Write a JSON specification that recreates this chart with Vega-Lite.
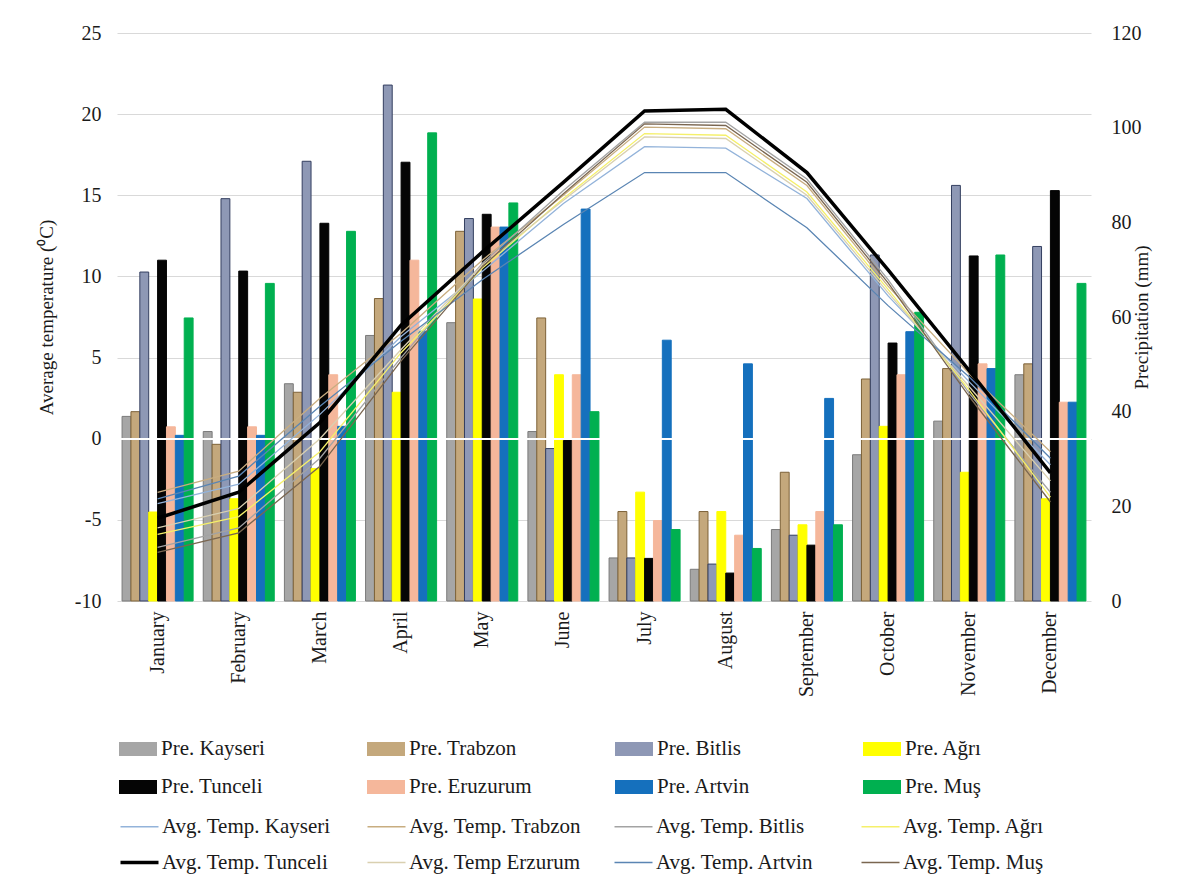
{
  "$schema": "https://vega.github.io/schema/vega-lite/v6.json",
  "width": 974,
  "height": 568,
  "autosize": {"type": "none"},
  "padding": {"left": 117, "top": 33, "right": 103, "bottom": 281},
  "background": "white",
  "datasets": {
    "precip": [
      {"month": "January", "pre": "Pre. Kayseri", "mm": 39.0},
      {"month": "January", "pre": "Pre. Trabzon", "mm": 40.0},
      {"month": "January", "pre": "Pre. Bitlis", "mm": 69.5},
      {"month": "January", "pre": "Pre. Ağrı", "mm": 18.8},
      {"month": "January", "pre": "Pre. Tunceli", "mm": 72.0},
      {"month": "January", "pre": "Pre. Eruzurum", "mm": 36.8},
      {"month": "January", "pre": "Pre. Artvin", "mm": 35.0},
      {"month": "January", "pre": "Pre. Muş", "mm": 59.8},
      {"month": "February", "pre": "Pre. Kayseri", "mm": 35.8},
      {"month": "February", "pre": "Pre. Trabzon", "mm": 33.1},
      {"month": "February", "pre": "Pre. Bitlis", "mm": 85.0},
      {"month": "February", "pre": "Pre. Ağrı", "mm": 21.6},
      {"month": "February", "pre": "Pre. Tunceli", "mm": 69.7},
      {"month": "February", "pre": "Pre. Eruzurum", "mm": 36.8},
      {"month": "February", "pre": "Pre. Artvin", "mm": 35.0},
      {"month": "February", "pre": "Pre. Muş", "mm": 67.1},
      {"month": "March", "pre": "Pre. Kayseri", "mm": 45.9},
      {"month": "March", "pre": "Pre. Trabzon", "mm": 44.1},
      {"month": "March", "pre": "Pre. Bitlis", "mm": 92.9},
      {"month": "March", "pre": "Pre. Ağrı", "mm": 28.0},
      {"month": "March", "pre": "Pre. Tunceli", "mm": 79.8},
      {"month": "March", "pre": "Pre. Eruzurum", "mm": 47.8},
      {"month": "March", "pre": "Pre. Artvin", "mm": 36.9},
      {"month": "March", "pre": "Pre. Muş", "mm": 78.1},
      {"month": "April", "pre": "Pre. Kayseri", "mm": 56.1},
      {"month": "April", "pre": "Pre. Trabzon", "mm": 63.9},
      {"month": "April", "pre": "Pre. Bitlis", "mm": 109.0},
      {"month": "April", "pre": "Pre. Ağrı", "mm": 44.1},
      {"month": "April", "pre": "Pre. Tunceli", "mm": 92.7},
      {"month": "April", "pre": "Pre. Eruzurum", "mm": 72.0},
      {"month": "April", "pre": "Pre. Artvin", "mm": 57.0},
      {"month": "April", "pre": "Pre. Muş", "mm": 98.9},
      {"month": "May", "pre": "Pre. Kayseri", "mm": 58.8},
      {"month": "May", "pre": "Pre. Trabzon", "mm": 78.1},
      {"month": "May", "pre": "Pre. Bitlis", "mm": 80.8},
      {"month": "May", "pre": "Pre. Ağrı", "mm": 63.8},
      {"month": "May", "pre": "Pre. Tunceli", "mm": 81.7},
      {"month": "May", "pre": "Pre. Eruzurum", "mm": 79.0},
      {"month": "May", "pre": "Pre. Artvin", "mm": 79.0},
      {"month": "May", "pre": "Pre. Muş", "mm": 84.1},
      {"month": "June", "pre": "Pre. Kayseri", "mm": 35.8},
      {"month": "June", "pre": "Pre. Trabzon", "mm": 59.8},
      {"month": "June", "pre": "Pre. Bitlis", "mm": 32.2},
      {"month": "June", "pre": "Pre. Ağrı", "mm": 47.8},
      {"month": "June", "pre": "Pre. Tunceli", "mm": 33.9},
      {"month": "June", "pre": "Pre. Eruzurum", "mm": 47.8},
      {"month": "June", "pre": "Pre. Artvin", "mm": 82.8},
      {"month": "June", "pre": "Pre. Muş", "mm": 40.0},
      {"month": "July", "pre": "Pre. Kayseri", "mm": 9.1},
      {"month": "July", "pre": "Pre. Trabzon", "mm": 18.9},
      {"month": "July", "pre": "Pre. Bitlis", "mm": 9.1},
      {"month": "July", "pre": "Pre. Ağrı", "mm": 23.0},
      {"month": "July", "pre": "Pre. Tunceli", "mm": 9.0},
      {"month": "July", "pre": "Pre. Eruzurum", "mm": 17.0},
      {"month": "July", "pre": "Pre. Artvin", "mm": 55.1},
      {"month": "July", "pre": "Pre. Muş", "mm": 15.1},
      {"month": "August", "pre": "Pre. Kayseri", "mm": 6.7},
      {"month": "August", "pre": "Pre. Trabzon", "mm": 18.9},
      {"month": "August", "pre": "Pre. Bitlis", "mm": 7.8},
      {"month": "August", "pre": "Pre. Ağrı", "mm": 18.9},
      {"month": "August", "pre": "Pre. Tunceli", "mm": 5.9},
      {"month": "August", "pre": "Pre. Eruzurum", "mm": 13.9},
      {"month": "August", "pre": "Pre. Artvin", "mm": 50.1},
      {"month": "August", "pre": "Pre. Muş", "mm": 11.1},
      {"month": "September", "pre": "Pre. Kayseri", "mm": 15.1},
      {"month": "September", "pre": "Pre. Trabzon", "mm": 27.2},
      {"month": "September", "pre": "Pre. Bitlis", "mm": 13.9},
      {"month": "September", "pre": "Pre. Ağrı", "mm": 16.1},
      {"month": "September", "pre": "Pre. Tunceli", "mm": 11.8},
      {"month": "September", "pre": "Pre. Eruzurum", "mm": 18.9},
      {"month": "September", "pre": "Pre. Artvin", "mm": 42.8},
      {"month": "September", "pre": "Pre. Muş", "mm": 16.1},
      {"month": "October", "pre": "Pre. Kayseri", "mm": 30.9},
      {"month": "October", "pre": "Pre. Trabzon", "mm": 46.9},
      {"month": "October", "pre": "Pre. Bitlis", "mm": 73.1},
      {"month": "October", "pre": "Pre. Ağrı", "mm": 36.9},
      {"month": "October", "pre": "Pre. Tunceli", "mm": 54.5},
      {"month": "October", "pre": "Pre. Eruzurum", "mm": 47.8},
      {"month": "October", "pre": "Pre. Artvin", "mm": 56.9},
      {"month": "October", "pre": "Pre. Muş", "mm": 61.0},
      {"month": "November", "pre": "Pre. Kayseri", "mm": 38.0},
      {"month": "November", "pre": "Pre. Trabzon", "mm": 49.1},
      {"month": "November", "pre": "Pre. Bitlis", "mm": 87.8},
      {"month": "November", "pre": "Pre. Ağrı", "mm": 27.2},
      {"month": "November", "pre": "Pre. Tunceli", "mm": 72.9},
      {"month": "November", "pre": "Pre. Eruzurum", "mm": 50.1},
      {"month": "November", "pre": "Pre. Artvin", "mm": 49.1},
      {"month": "November", "pre": "Pre. Muş", "mm": 73.1},
      {"month": "December", "pre": "Pre. Kayseri", "mm": 47.8},
      {"month": "December", "pre": "Pre. Trabzon", "mm": 50.1},
      {"month": "December", "pre": "Pre. Bitlis", "mm": 74.9},
      {"month": "December", "pre": "Pre. Ağrı", "mm": 21.6},
      {"month": "December", "pre": "Pre. Tunceli", "mm": 86.7},
      {"month": "December", "pre": "Pre. Eruzurum", "mm": 42.0},
      {"month": "December", "pre": "Pre. Artvin", "mm": 42.0},
      {"month": "December", "pre": "Pre. Muş", "mm": 67.1}
    ],
    "temp": [
      {"month": "January", "avg": "Avg. Temp. Kayseri", "t": -4.0},
      {"month": "February", "avg": "Avg. Temp. Kayseri", "t": -2.8},
      {"month": "March", "avg": "Avg. Temp. Kayseri", "t": 1.5},
      {"month": "April", "avg": "Avg. Temp. Kayseri", "t": 6.3},
      {"month": "May", "avg": "Avg. Temp. Kayseri", "t": 10.3},
      {"month": "June", "avg": "Avg. Temp. Kayseri", "t": 14.5},
      {"month": "July", "avg": "Avg. Temp. Kayseri", "t": 18.0},
      {"month": "August", "avg": "Avg. Temp. Kayseri", "t": 17.9},
      {"month": "September", "avg": "Avg. Temp. Kayseri", "t": 14.8},
      {"month": "October", "avg": "Avg. Temp. Kayseri", "t": 8.8},
      {"month": "November", "avg": "Avg. Temp. Kayseri", "t": 3.5},
      {"month": "December", "avg": "Avg. Temp. Kayseri", "t": -1.6},
      {"month": "January", "avg": "Avg. Temp. Trabzon", "t": -3.3},
      {"month": "February", "avg": "Avg. Temp. Trabzon", "t": -2.0},
      {"month": "March", "avg": "Avg. Temp. Trabzon", "t": 2.5},
      {"month": "April", "avg": "Avg. Temp. Trabzon", "t": 6.5},
      {"month": "May", "avg": "Avg. Temp. Trabzon", "t": 11.0},
      {"month": "June", "avg": "Avg. Temp. Trabzon", "t": 15.0},
      {"month": "July", "avg": "Avg. Temp. Trabzon", "t": 19.2},
      {"month": "August", "avg": "Avg. Temp. Trabzon", "t": 19.1},
      {"month": "September", "avg": "Avg. Temp. Trabzon", "t": 15.6},
      {"month": "October", "avg": "Avg. Temp. Trabzon", "t": 9.4},
      {"month": "November", "avg": "Avg. Temp. Trabzon", "t": 4.0},
      {"month": "December", "avg": "Avg. Temp. Trabzon", "t": -0.8},
      {"month": "January", "avg": "Avg. Temp. Bitlis", "t": -6.7},
      {"month": "February", "avg": "Avg. Temp. Bitlis", "t": -5.5},
      {"month": "March", "avg": "Avg. Temp. Bitlis", "t": -1.2},
      {"month": "April", "avg": "Avg. Temp. Bitlis", "t": 5.0},
      {"month": "May", "avg": "Avg. Temp. Bitlis", "t": 10.8},
      {"month": "June", "avg": "Avg. Temp. Bitlis", "t": 15.3},
      {"month": "July", "avg": "Avg. Temp. Bitlis", "t": 19.5},
      {"month": "August", "avg": "Avg. Temp. Bitlis", "t": 19.5},
      {"month": "September", "avg": "Avg. Temp. Bitlis", "t": 16.0},
      {"month": "October", "avg": "Avg. Temp. Bitlis", "t": 9.8},
      {"month": "November", "avg": "Avg. Temp. Bitlis", "t": 2.8},
      {"month": "December", "avg": "Avg. Temp. Bitlis", "t": -3.3},
      {"month": "January", "avg": "Avg. Temp. Ağrı", "t": -5.9},
      {"month": "February", "avg": "Avg. Temp. Ağrı", "t": -4.8},
      {"month": "March", "avg": "Avg. Temp. Ağrı", "t": -0.8},
      {"month": "April", "avg": "Avg. Temp. Ağrı", "t": 5.3},
      {"month": "May", "avg": "Avg. Temp. Ağrı", "t": 10.5},
      {"month": "June", "avg": "Avg. Temp. Ağrı", "t": 14.8},
      {"month": "July", "avg": "Avg. Temp. Ağrı", "t": 18.8},
      {"month": "August", "avg": "Avg. Temp. Ağrı", "t": 18.7},
      {"month": "September", "avg": "Avg. Temp. Ağrı", "t": 15.2},
      {"month": "October", "avg": "Avg. Temp. Ağrı", "t": 9.2},
      {"month": "November", "avg": "Avg. Temp. Ağrı", "t": 3.0},
      {"month": "December", "avg": "Avg. Temp. Ağrı", "t": -3.6},
      {"month": "January", "avg": "Avg. Temp Erzurum", "t": -5.5},
      {"month": "February", "avg": "Avg. Temp Erzurum", "t": -4.3},
      {"month": "March", "avg": "Avg. Temp Erzurum", "t": 0.0},
      {"month": "April", "avg": "Avg. Temp Erzurum", "t": 5.5},
      {"month": "May", "avg": "Avg. Temp Erzurum", "t": 10.7},
      {"month": "June", "avg": "Avg. Temp Erzurum", "t": 14.7},
      {"month": "July", "avg": "Avg. Temp Erzurum", "t": 18.6},
      {"month": "August", "avg": "Avg. Temp Erzurum", "t": 18.5},
      {"month": "September", "avg": "Avg. Temp Erzurum", "t": 15.0},
      {"month": "October", "avg": "Avg. Temp Erzurum", "t": 9.0},
      {"month": "November", "avg": "Avg. Temp Erzurum", "t": 3.2},
      {"month": "December", "avg": "Avg. Temp Erzurum", "t": -2.6},
      {"month": "January", "avg": "Avg. Temp. Artvin", "t": -3.7},
      {"month": "February", "avg": "Avg. Temp. Artvin", "t": -2.3},
      {"month": "March", "avg": "Avg. Temp. Artvin", "t": 2.0},
      {"month": "April", "avg": "Avg. Temp. Artvin", "t": 6.0},
      {"month": "May", "avg": "Avg. Temp. Artvin", "t": 9.8},
      {"month": "June", "avg": "Avg. Temp. Artvin", "t": 13.2},
      {"month": "July", "avg": "Avg. Temp. Artvin", "t": 16.4},
      {"month": "August", "avg": "Avg. Temp. Artvin", "t": 16.4},
      {"month": "September", "avg": "Avg. Temp. Artvin", "t": 13.0},
      {"month": "October", "avg": "Avg. Temp. Artvin", "t": 8.2},
      {"month": "November", "avg": "Avg. Temp. Artvin", "t": 3.8},
      {"month": "December", "avg": "Avg. Temp. Artvin", "t": -1.2},
      {"month": "January", "avg": "Avg. Temp. Muş", "t": -7.0},
      {"month": "February", "avg": "Avg. Temp. Muş", "t": -5.8},
      {"month": "March", "avg": "Avg. Temp. Muş", "t": -1.7},
      {"month": "April", "avg": "Avg. Temp. Muş", "t": 4.8},
      {"month": "May", "avg": "Avg. Temp. Muş", "t": 10.6},
      {"month": "June", "avg": "Avg. Temp. Muş", "t": 15.1},
      {"month": "July", "avg": "Avg. Temp. Muş", "t": 19.4},
      {"month": "August", "avg": "Avg. Temp. Muş", "t": 19.3},
      {"month": "September", "avg": "Avg. Temp. Muş", "t": 15.8},
      {"month": "October", "avg": "Avg. Temp. Muş", "t": 9.6},
      {"month": "November", "avg": "Avg. Temp. Muş", "t": 2.6},
      {"month": "December", "avg": "Avg. Temp. Muş", "t": -3.9},
      {"month": "January", "avg": "Avg. Temp. Tunceli", "t": -4.9},
      {"month": "February", "avg": "Avg. Temp. Tunceli", "t": -3.3},
      {"month": "March", "avg": "Avg. Temp. Tunceli", "t": 1.0},
      {"month": "April", "avg": "Avg. Temp. Tunceli", "t": 7.0},
      {"month": "May", "avg": "Avg. Temp. Tunceli", "t": 11.5},
      {"month": "June", "avg": "Avg. Temp. Tunceli", "t": 15.8},
      {"month": "July", "avg": "Avg. Temp. Tunceli", "t": 20.2},
      {"month": "August", "avg": "Avg. Temp. Tunceli", "t": 20.3},
      {"month": "September", "avg": "Avg. Temp. Tunceli", "t": 16.4},
      {"month": "October", "avg": "Avg. Temp. Tunceli", "t": 10.4},
      {"month": "November", "avg": "Avg. Temp. Tunceli", "t": 4.2},
      {"month": "December", "avg": "Avg. Temp. Tunceli", "t": -2.1}
    ]
  },
  "layer": [
    {
      "data": {"name": "precip"},
      "mark": {"type": "bar", "strokeWidth": 1},
      "encoding": {
        "x": {
          "field": "month",
          "type": "nominal",
          "sort": ["January", "February", "March", "April", "May", "June", "July", "August", "September", "October", "November", "December"],
          "scale": {"paddingInner": 0.125, "paddingOuter": 0.0625},
          "axis": {
            "title": null,
            "labelAngle": -90,
            "labelFontSize": 20,
            "labelPadding": 10,
            "ticks": false,
            "domain": false,
            "labelColor": "#1a1a1a"
          }
        },
        "xOffset": {
          "field": "pre",
          "type": "nominal",
          "sort": ["Pre. Kayseri", "Pre. Trabzon", "Pre. Bitlis", "Pre. Ağrı", "Pre. Tunceli", "Pre. Eruzurum", "Pre. Artvin", "Pre. Muş"],
          "scale": {"paddingInner": 0, "paddingOuter": 0}
        },
        "y": {
          "field": "mm",
          "type": "quantitative",
          "scale": {"domain": [0, 120]},
          "axis": {
            "orient": "right",
            "values": [0, 20, 40, 60, 80, 100, 120],
            "grid": false,
            "domain": false,
            "ticks": false,
            "labelFontSize": 20,
            "labelPadding": 20,
            "labelColor": "#1a1a1a",
            "title": "Precipitation  (mm)",
            "titleAngle": -90,
            "titleFontSize": 19,
            "titleFontWeight": "normal",
            "titleColor": "#1a1a1a",
            "titlePadding": 10
          }
        },
        "fill": {
          "field": "pre",
          "type": "nominal",
          "scale": {
            "domain": ["Pre. Kayseri", "Pre. Trabzon", "Pre. Bitlis", "Pre. Ağrı", "Pre. Tunceli", "Pre. Eruzurum", "Pre. Artvin", "Pre. Muş"],
            "range": ["#a6a6a6", "#c4a87c", "#8e98b5", "#ffff00", "#050505", "#f5b79b", "#1570bd", "#00b050"]
          },
          "legend": {
            "orient": "none",
            "direction": "horizontal",
            "legendX": 1,
            "legendY": 696,
            "title": null,
            "columns": 4,
            "columnPadding": 82,
            "gridAlign": "all",
            "rowPadding": 8,
            "padding": 0,
            "symbolType": "M-1,-0.37H1V0.37H-1Z",
            "symbolSize": 1444,
            "labelFontSize": 21,
            "labelLimit": 400,
            "labelOffset": 3,
            "labelColor": "#1a1a1a"
          }
        },
        "stroke": {
          "field": "pre",
          "type": "nominal",
          "scale": {
            "domain": ["Pre. Kayseri", "Pre. Trabzon", "Pre. Bitlis", "Pre. Ağrı", "Pre. Tunceli", "Pre. Eruzurum", "Pre. Artvin", "Pre. Muş"],
            "range": ["#7a7a7a", "#7d6238", "#343f60", "#ffff00", "#050505", "#f5b79b", "#1570bd", "#00b050"]
          },
          "legend": null
        }
      }
    },
    {
      "data": {"name": "temp"},
      "layer": [
        {
          "mark": {"type": "rule", "color": "white", "strokeWidth": 1.5},
          "encoding": {
            "y": {
              "datum": 0,
              "type": "quantitative",
              "scale": {"domain": [-10, 25]},
              "axis": {
                "orient": "left",
                "values": [-10, -5, 0, 5, 10, 15, 20, 25],
                "labelExpr": "toString(datum.value)",
                "grid": true,
                "gridColor": "#d9d9d9",
                "domain": false,
                "ticks": false,
                "labelFontSize": 20,
                "labelPadding": 16,
                "labelColor": "#1a1a1a",
                "title": "Average temperature (⁰C)",
                "titleFontSize": 19,
                "titleFontWeight": "normal",
                "titleColor": "#1a1a1a",
                "titlePadding": 18
              }
            }
          }
        },
        {
          "mark": {"type": "line"},
          "encoding": {
            "x": {
              "field": "month",
              "type": "nominal",
              "sort": ["January", "February", "March", "April", "May", "June", "July", "August", "September", "October", "November", "December"]
            },
            "y": {
              "field": "t",
              "type": "quantitative",
              "scale": {"domain": [-10, 25]},
              "axis": {
                "orient": "left",
                "values": [-10, -5, 0, 5, 10, 15, 20, 25],
                "labelExpr": "toString(datum.value)",
                "grid": true,
                "gridColor": "#d9d9d9",
                "domain": false,
                "ticks": false,
                "labelFontSize": 20,
                "labelPadding": 16,
                "labelColor": "#1a1a1a",
                "title": "Average temperature (⁰C)",
                "titleFontSize": 19,
                "titleFontWeight": "normal",
                "titleColor": "#1a1a1a",
                "titlePadding": 18
              }
            },
            "stroke": {
              "field": "avg",
              "type": "nominal",
              "scale": {
                "domain": ["Avg. Temp. Kayseri", "Avg. Temp. Trabzon", "Avg. Temp. Bitlis", "Avg. Temp. Ağrı", "Avg. Temp. Tunceli", "Avg. Temp Erzurum", "Avg. Temp. Artvin", "Avg. Temp. Muş"],
                "range": ["#93b3da", "#c8ad80", "#a3a3a3", "#f5f06a", "#000000", "#d9d0b0", "#5a85b3", "#7a6650"]
              },
              "legend": {
                "orient": "none",
                "direction": "horizontal",
                "legendX": 12,
                "legendY": 783,
                "title": null,
                "columns": 4,
                "columnPadding": 29,
                "gridAlign": "all",
                "rowPadding": 14,
                "padding": 0,
                "symbolType": "M-1,0H1",
                "symbolSize": 1444,
                "labelFontSize": 21,
                "labelLimit": 400,
                "labelOffset": 12,
                "labelColor": "#1a1a1a",
                "encode": {
                  "symbols": {
                    "update": {
                      "strokeWidth": {"signal": "datum.value === 'Avg. Temp. Tunceli' ? 3.5 : 1.3"}
                    }
                  }
                }
              }
            },
            "strokeWidth": {
              "condition": {"test": "datum.avg === 'Avg. Temp. Tunceli'", "value": 3.5},
              "value": 1.3
            }
          }
        }
      ]
    }
  ],
  "resolve": {"scale": {"y": "independent", "stroke": "independent"}},
  "config": {
    "font": "Liberation Serif",
    "view": {"stroke": null}
  }
}
